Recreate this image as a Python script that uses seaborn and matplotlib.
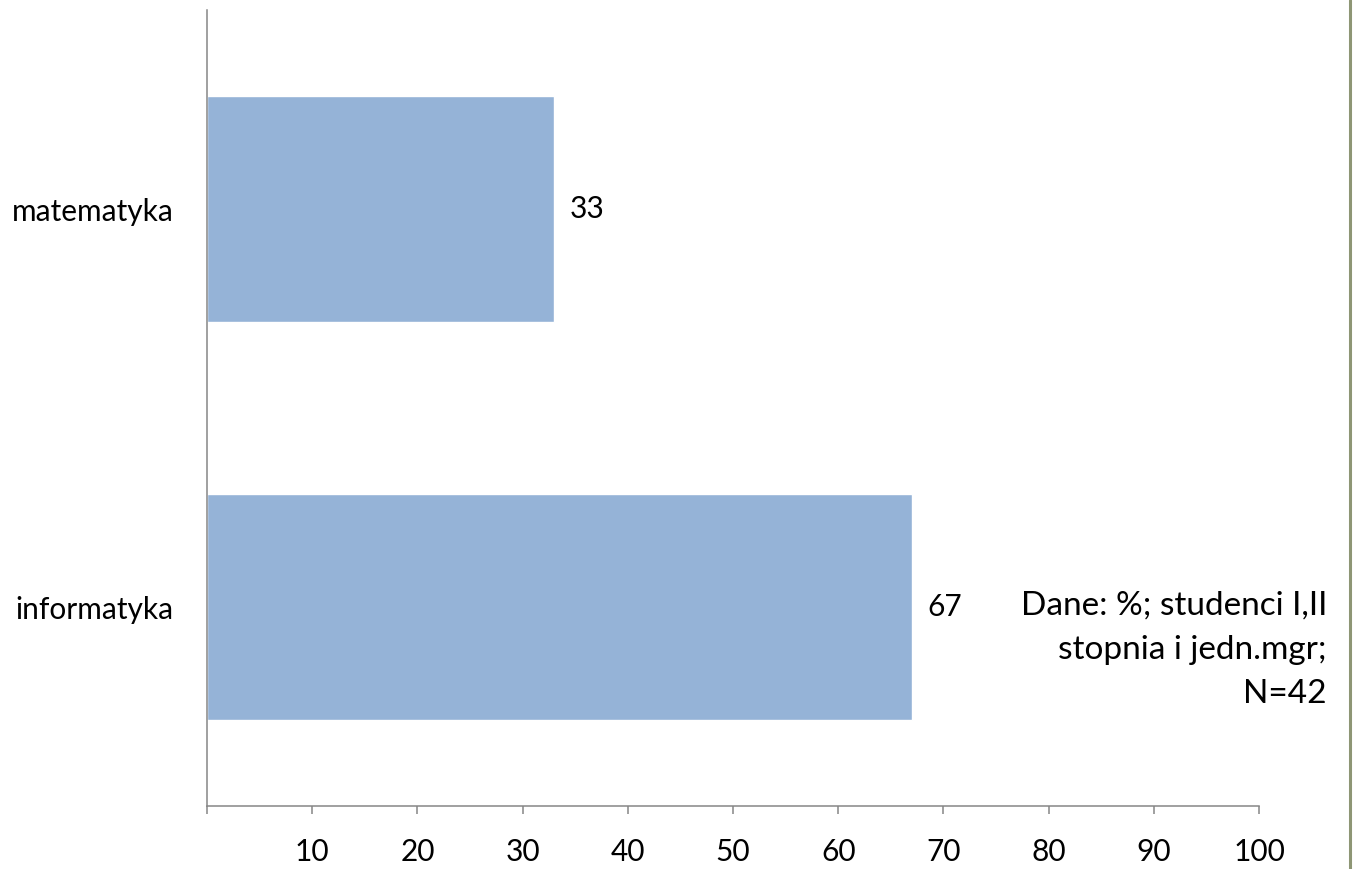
import pandas as pd
import matplotlib
matplotlib.use('Agg')
import matplotlib.pyplot as plt
from matplotlib.lines import Line2D
import seaborn as sns

# data
categories = ['matematyka', 'informatyka']
values = [33, 67]
x_ticks = [0, 10, 20, 30, 40, 50, 60, 70, 80, 90, 100]
x_tick_labels = ['', '10', '20', '30', '40', '50', '60', '70', '80', '90', '100']
note_lines = ['Dane: %; studenci I,II', 'stopnia i jedn.mgr;', 'N=42']

df = pd.DataFrame({'kierunek': categories, 'procent': values})

sns.set_theme(style='white')
plt.rcParams['font.family'] = ['Lato', 'DejaVu Sans']

axis_grey = '#868686'
bar_blue = '#95B3D7'

fig = plt.figure(figsize=(13.54, 8.69), dpi=100)
ax = fig.add_axes([207 / 1354, 63 / 869, 1052 / 1354, 796 / 869])

sns.barplot(data=df, x='procent', y='kierunek', order=categories, orient='h',
            color=bar_blue, saturation=1, width=0.57, ax=ax)

for cont in ax.containers:
    ax.bar_label(cont, fmt='%d', padding=11, fontsize=21.5, color='black')

ax.set_xlim(0, 100)
ax.set_xticks(x_ticks)
ax.set_xticklabels(x_tick_labels)
ax.set_xlabel('')
ax.set_ylabel('')

ax.tick_params(axis='x', direction='out', length=6, width=1.1, color=axis_grey,
               pad=17, labelsize=21.5, labelcolor='black', bottom=True)
ax.tick_params(axis='y', length=0, pad=24, labelsize=21.5, labelcolor='black')

sns.despine(ax=ax, top=True, right=True)
for side in ['left', 'bottom']:
    ax.spines[side].set_color(axis_grey)
    ax.spines[side].set_linewidth(1.1)

# note on the right, one right-aligned line at a time
for i, line in enumerate(note_lines):
    fig.text(1327 / 1354, 1 - (606 + 44 * i) / 869, line, ha='right', va='center',
             fontsize=24, color='black')

# thin frame line at the right edge
fig.add_artist(Line2D([1350 / 1354, 1350 / 1354], [0, 1], transform=fig.transFigure,
                      color='#8E9675', linewidth=2.2))

fig.savefig('out.png', dpi=100)
